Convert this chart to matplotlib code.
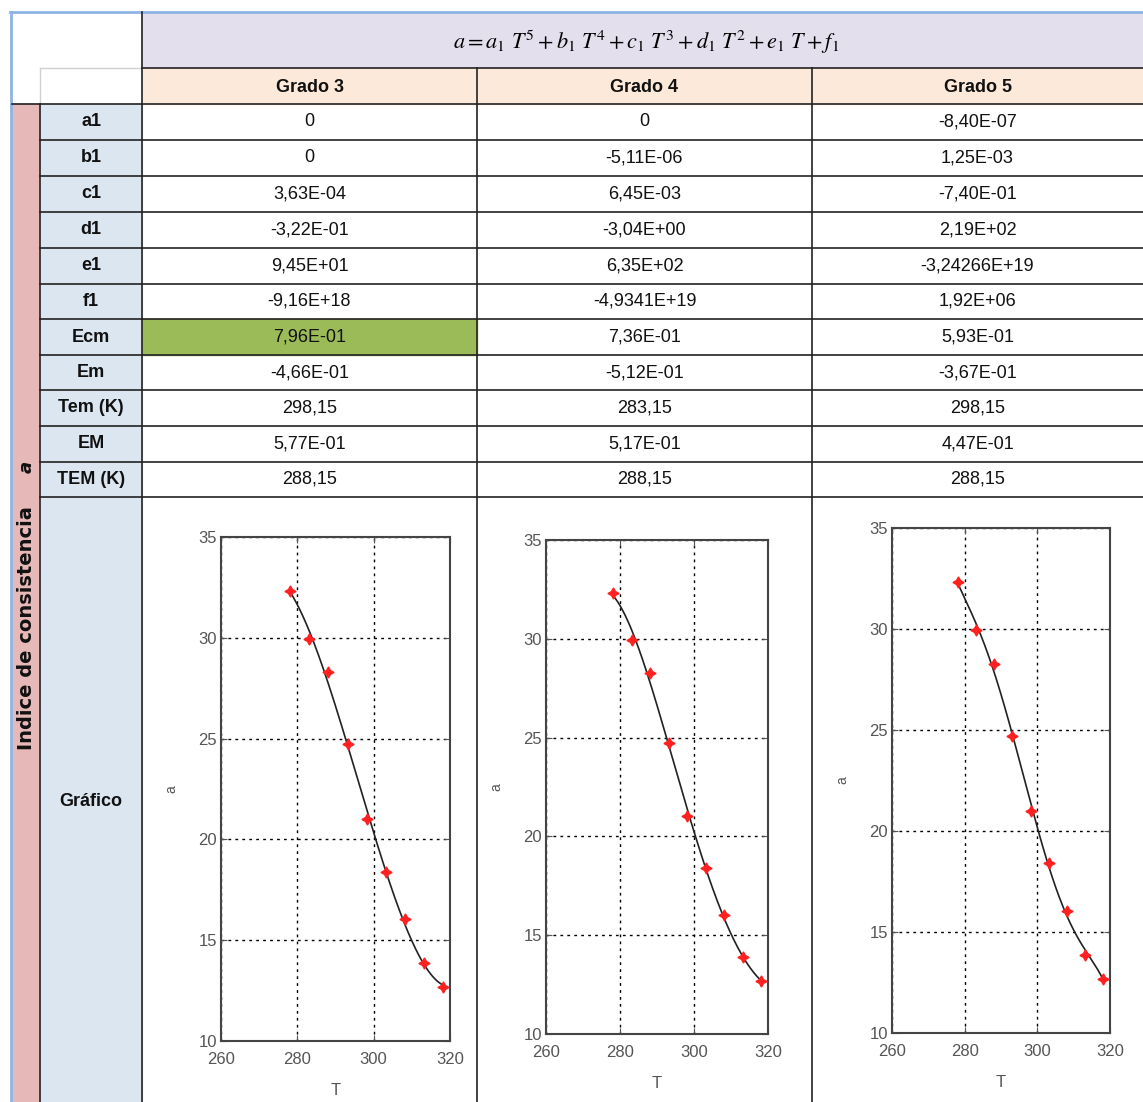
import numpy as np
import matplotlib
matplotlib.use("Agg")
import matplotlib.pyplot as plt
from matplotlib.patches import Rectangle
from matplotlib import font_manager

# Data
temps = [278.15, 283.15, 288.15, 293.15, 298.15, 303.15, 308.15, 313.15, 318.15]
a_values = [32.32, 29.94, 28.29, 24.72, 21.01, 18.40, 16.04, 13.88, 12.69]
degrees = [3, 4, 5]
col_titles = ["Grado 3", "Grado 4", "Grado 5"]
row_labels = ["a1", "b1", "c1", "d1", "e1", "f1", "Ecm", "Em", "Tem (K)", "EM", "TEM (K)"]
grado3 = ["0", "0", "3,63E-04", "-3,22E-01", "9,45E+01", "-9,16E+18",
          "7,96E-01", "-4,66E-01", "298,15", "5,77E-01", "288,15"]
grado4 = ["0", "-5,11E-06", "6,45E-03", "-3,04E+00", "6,35E+02", "-4,9341E+19",
          "7,36E-01", "-5,12E-01", "283,15", "5,17E-01", "288,15"]
grado5 = ["-8,40E-07", "1,25E-03", "-7,40E-01", "2,19E+02", "-3,24266E+19", "1,92E+06",
          "5,93E-01", "-3,67E-01", "298,15", "4,47E-01", "288,15"]
columns = [grado3, grado4, grado5]
x_ticks = [260, 280, 300, 320]
y_ticks = [10, 15, 20, 25, 30, 35]

W, H = 1143, 1102

# pick a narrow font if there is one
names = {f.name for f in font_manager.fontManager.ttflist}
table_font = "Liberation Sans Narrow" if "Liberation Sans Narrow" in names else "Liberation Sans"
plt.rcParams["mathtext.fontset"] = "stix"

fig = plt.figure(figsize=(W / 100, H / 100), dpi=100)
bg = fig.add_axes([0, 0, 1, 1])
bg.set_xlim(0, W)
bg.set_ylim(H, 0)
bg.axis("off")

# Layout in pixels
col_x = [142, 477, 812, W]
row_y = [104, 140, 176, 212, 248, 284, 319, 355, 390, 426, 462, 497]
lc = "#222222"

# backgrounds
bg.add_patch(Rectangle((142, 12), W - 142, 56, color="#e4dfec", zorder=0))
bg.add_patch(Rectangle((142, 68), W - 142, 36, color="#fde9d9", zorder=0))
bg.add_patch(Rectangle((12, 104), 28, H - 104, color="#e6b8b7", zorder=0))
bg.add_patch(Rectangle((40, 104), 102, H - 104, color="#dce6f1", zorder=0))
bg.add_patch(Rectangle((142, row_y[6]), 335, row_y[7] - row_y[6], color="#9bbb59", zorder=0))

# outer blue-ish frame
bg.plot([10, W], [12, 12], color="#8eb4e3", lw=2)
bg.plot([11, 11], [12, H], color="#8eb4e3", lw=2)
bg.plot([40, 142], [68, 68], color="#d0d0d0", lw=1)
bg.plot([40, 40], [68, 104], color="#d0d0d0", lw=1)

# grid lines of the table
bg.plot([142, 142], [12, H], color=lc, lw=1.2)
for x in col_x[1:3]:
    bg.plot([x, x], [68, H], color=lc, lw=1.2)
bg.plot([142, W], [68, 68], color=lc, lw=1.2)
bg.plot([12, W], [104, 104], color=lc, lw=1.2)
for y in row_y[1:]:
    bg.plot([40, W], [y, y], color=lc, lw=1.2)
bg.plot([40, 40], [104, H], color=lc, lw=1.2)

# header formula
bg.text(646, 42, r"$a = a_1\ T^5 + b_1\ T^4 + c_1\ T^3 + d_1\ T^2 + e_1\ T + f_1$",
        ha="center", va="center", fontsize=16)

for j, title in enumerate(col_titles):
    cx = (col_x[j] + col_x[j + 1]) / 2
    bg.text(cx, 87, title, ha="center", va="center", fontsize=13,
            family=table_font, fontweight="bold", color="#111111")

for i, lab in enumerate(row_labels):
    cy = (row_y[i] + row_y[i + 1]) / 2
    bg.text(91, cy, lab, ha="center", va="center", fontsize=13,
            family=table_font, fontweight="bold", color="#111111")
    for j, col in enumerate(columns):
        cx = (col_x[j] + col_x[j + 1]) / 2
        bg.text(cx, cy, col[i], ha="center", va="center", fontsize=13,
                family=table_font, color="#111111")

bg.text(91, 802, "Gráfico", ha="center", va="center", fontsize=13,
        family=table_font, fontweight="bold", color="#111111")
bg.text(27, 628, "Indice de consistencia", ha="center", va="center", rotation=90,
        fontsize=14, fontweight="bold", family="DejaVu Sans", color="#111111")
bg.text(27, 467, "a", ha="center", va="center", rotation=90,
        fontsize=13, fontweight="bold", style="italic", color="#111111")

# plots: [left, right, top, bottom] pixel boxes
boxes = [(221, 450, 537, 1041), (546, 768, 540, 1034), (892, 1110, 528, 1033)]
T = np.array(temps)
A = np.array(a_values)
for deg, (l, r, t, b) in zip(degrees, boxes):
    ax = fig.add_axes([l / W, 1 - b / H, (r - l) / W, (b - t) / H])
    fit = np.polynomial.Polynomial.fit(T, A, deg)
    tt = np.linspace(T.min(), T.max(), 200)
    ax.plot(tt, fit(tt), color="#222222", lw=1.2, zorder=3)
    ax.plot(T, A, linestyle="none", marker=(4, 1, 0), color="#ff2020",
            markersize=8, zorder=4)
    ax.set_xlim(260, 320)
    ax.set_ylim(10, 35)
    ax.set_xticks(x_ticks)
    ax.set_yticks(y_ticks)
    ax.grid(True, color="black", linestyle=(0, (2, 3)), lw=1)
    ax.tick_params(direction="in", length=4, colors="#555555", labelsize=12,
                   top=True, right=True, pad=3)
    ax.tick_params(axis="x", pad=8)
    for lab in ax.get_xticklabels() + ax.get_yticklabels():
        lab.set_family("Liberation Sans")
    for s in ax.spines.values():
        s.set_color("#444444")
        s.set_linewidth(1.5)
    ax.set_xlabel("T", fontsize=12, color="#555555", family="Liberation Sans")
    ax.set_ylabel("a", fontsize=10, color="#555555", family="Liberation Sans")
    ax.xaxis.set_label_coords(0.5, -42 / (b - t))
    ax.yaxis.set_label_coords(-43 / (r - l), 0.5)

fig.savefig("out.png", dpi=100)
